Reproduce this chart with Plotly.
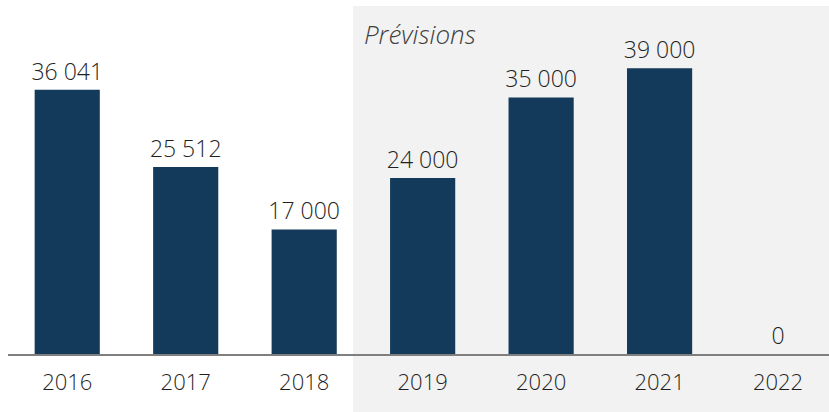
import plotly.graph_objects as go

years = ["2016", "2017", "2018", "2019", "2020", "2021", "2022"]
values = [36041, 25512, 17000, 24000, 35000, 39000, 0]
labels = ["36 041", "25 512", "17 000", "24 000", "35 000", "39 000", "0"]
forecast_label = "Prévisions"

bar_color = "#133a5a"
font_family = "Open Sans"

fig = go.Figure()
fig.add_trace(go.Bar(
    x=years, y=values, text=labels, textposition="outside",
    constraintext="none",
    marker=dict(color=bar_color, line=dict(width=0)),
    width=0.55,
    textfont=dict(family=font_family, size=23, color="#1f1f1f", weight=300),
    cliponaxis=False,
    hoverinfo="skip",
))

fig.add_shape(type="rect", xref="paper", yref="paper",
              x0=(353 - 8) / 821, x1=1.01, y0=-58 / 348, y1=(354 - 6) / 348,
              fillcolor="#f2f2f2", line=dict(width=0), layer="below")

fig.add_annotation(text="<i>" + forecast_label + "</i>", xref="paper", yref="paper",
                   x=(362 - 8) / 821, y=(354 - 34) / 348, xanchor="left", yanchor="middle",
                   showarrow=False,
                   font=dict(family=font_family, size=26, color="#404040", weight=300))

fig.update_layout(
    width=829, height=412,
    margin=dict(l=8, r=0, t=6, b=58),
    paper_bgcolor="white", plot_bgcolor="rgba(0,0,0,0)",
    showlegend=False,
    bargap=0.45,
    font=dict(family=font_family, color="#1f1f1f"),
)
fig.update_xaxes(range=[-0.5, 6.43], showline=True, linecolor="#7f7f7f", linewidth=2,
                 ticks="", showgrid=False,
                 tickfont=dict(size=22, color="#1f1f1f", weight=300),
                 ticklabelstandoff=8)
fig.update_yaxes(range=[0, 348 / 7.33 * 1000], visible=False, showgrid=False)

fig.write_html("out.html", config={"displayModeBar": False},
               post_script="document.body.style.margin='0';")
